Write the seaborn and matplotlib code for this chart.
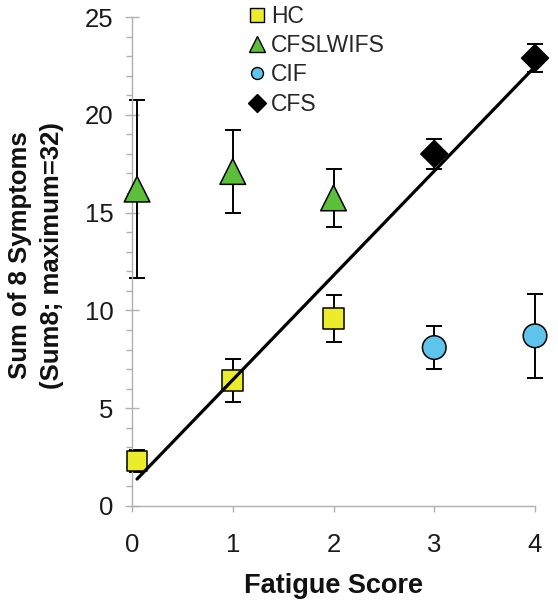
import numpy as np
import matplotlib
matplotlib.use("Agg")
import matplotlib.pyplot as plt
from matplotlib.lines import Line2D
from matplotlib.ticker import MultipleLocator
import seaborn as sns
import pandas as pd

# values (mean and error half-width)
hc_x = [0.05, 1, 2]
hc_y = [2.3, 6.4, 9.6]
hc_err = [0.55, 1.1, 1.2]

cfslwifs_x = [0.05, 1, 2]
cfslwifs_y = [16.2, 17.1, 15.75]
cfslwifs_err = [4.55, 2.1, 1.5]

cif_x = [3, 4]
cif_y = [8.1, 8.7]
cif_err = [1.1, 2.15]

cfs_x = [3, 4]
cfs_y = [18.0, 22.9]
cfs_err = [0.77, 0.7]

groups = ["HC", "CFSLWIFS", "CIF", "CFS"]
colors = {"HC": "#ecec2c", "CFSLWIFS": "#5cbf3a", "CIF": "#5ec4ec", "CFS": "#000000"}
markers = {"HC": "s", "CFSLWIFS": "^", "CIF": "o", "CFS": "D"}
sizes = {"HC": 225, "CFSLWIFS": 340, "CIF": 289, "CFS": 188}
legend_ms = {"HC": 9.4, "CFSLWIFS": 11.5, "CIF": 8.6, "CFS": 8.7}

sns.set_theme(style="white")
plt.rcParams["font.family"] = ["Liberation Sans", "DejaVu Sans"]

df = pd.concat([
    pd.DataFrame({"x": hc_x, "y": hc_y, "err": hc_err, "group": "HC"}),
    pd.DataFrame({"x": cfslwifs_x, "y": cfslwifs_y, "err": cfslwifs_err, "group": "CFSLWIFS"}),
    pd.DataFrame({"x": cif_x, "y": cif_y, "err": cif_err, "group": "CIF"}),
    pd.DataFrame({"x": cfs_x, "y": cfs_y, "err": cfs_err, "group": "CFS"}),
], ignore_index=True)

fig, ax = plt.subplots(figsize=(5.58, 6.08), dpi=100)
fig.subplots_adjust(left=0.2366, right=0.9588, bottom=0.1678, top=0.972)

# error bars under the markers
ax.errorbar(df["x"], df["y"], yerr=df["err"], fmt="none", ecolor="black",
            elinewidth=1.4, capsize=5.8, capthick=1.4, zorder=2, clip_on=False)

sns.scatterplot(data=df, x="x", y="y", hue="group", style="group", size="group",
                palette=colors, markers=markers, sizes=sizes, hue_order=groups,
                edgecolor="black", linewidth=1.1, legend=False, ax=ax,
                zorder=3, clip_on=False)

# fitted line through HC and CFS groups
fit = df[df["group"].isin(["HC", "CFS"])]
sns.regplot(data=fit, x="x", y="y", scatter=False, ci=None, ax=ax,
            line_kws={"color": "black", "lw": 2.3, "zorder": 4})

ax.set_xlim(0, 4)
ax.set_ylim(0, 25)
ax.set_xticks([0, 1, 2, 3, 4])
ax.set_yticks([0, 5, 10, 15, 20, 25])
ax.yaxis.set_minor_locator(MultipleLocator(1))

for side in ["top", "right"]:
    ax.spines[side].set_visible(False)
for side in ["left", "bottom"]:
    ax.spines[side].set_color("#b0b0b0")
    ax.spines[side].set_linewidth(1.0)

ax.tick_params(axis="y", which="major", direction="inout", length=10, width=1.0,
               color="#b0b0b0", pad=8.5, labelsize=18.5, labelcolor="#1a1a1a", left=True)
ax.tick_params(axis="y", which="minor", direction="out", length=4.3, width=1.0,
               color="#b0b0b0", left=True)
ax.tick_params(axis="x", which="major", direction="out", length=4.3, width=1.0,
               color="#b0b0b0", pad=15, labelsize=18.5, labelcolor="#1a1a1a", bottom=True)

ax.set_xlabel("Fatigue Score", fontsize=19.5, fontweight="bold", labelpad=11.5,
              color="#111111")
ax.set_ylabel("Sum of 8 Symptoms\n(Sum8; maximum=32)", fontsize=18.5,
              fontweight="bold", linespacing=1.45, color="#111111")
ax.yaxis.set_label_coords(-0.168, 0.513)

handles = [Line2D([], [], linestyle="none", marker=markers[g], markersize=legend_ms[g],
                  markerfacecolor=colors[g], markeredgecolor="black",
                  markeredgewidth=1.0, label=g) for g in groups]
ax.legend(handles=handles, loc="upper left", bbox_to_anchor=(245.6 / 558, 1 - 5 / 608),
          bbox_transform=fig.transFigure, frameon=False, fontsize=16.5,
          handlelength=1.0, handletextpad=0.1, labelspacing=0.27,
          borderpad=0, borderaxespad=0)

fig.savefig("out.png", dpi=100)
